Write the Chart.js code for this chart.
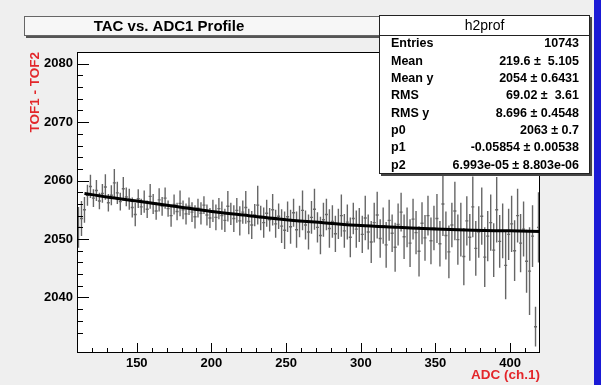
<!DOCTYPE html>
<html>
<head>
<meta charset="utf-8">
<script src="https://cdn.jsdelivr.net/npm/chart.js@4.4.0/dist/chart.umd.min.js"></script>
<style>
html, body { margin: 0; padding: 0; background: #efefef; }
#wrap { width: 601px; height: 385px; }
</style>
</head>
<body>
<div id="wrap"><canvas id="c" width="601" height="385"></canvas></div>
<script>
// profile bins (centre, mean, error)
var binX = [
  111, 113, 115, 117, 119,
  121, 123, 125, 127, 129, 131, 133, 135, 137, 139, 141, 143, 145, 147, 149,
  151, 153, 155, 157, 159, 161, 163, 165, 167, 169, 171, 173, 175, 177, 179, 181, 183, 185, 187, 189, 191, 193, 195, 197, 199,
  201, 203, 205, 207, 209, 211, 213, 215, 217, 219, 221, 223, 225, 227, 229, 231, 233, 235, 237, 239, 241, 243, 245, 247, 249,
  251, 253, 255, 257, 259, 261, 263, 265, 267, 269, 271, 273, 275, 277, 279, 281, 283, 285, 287, 289, 291, 293, 295, 297, 299,
  301, 303, 305, 307, 309, 311, 313, 315, 317, 319, 321, 323, 325, 327, 329, 331, 333, 335, 337, 339, 341, 343, 345, 347, 349,
  351, 353, 355, 357, 359, 361, 363, 365, 367, 369, 371, 373, 375, 377, 379, 381, 383, 385, 387, 389, 391, 393, 395, 397, 399,
  401, 403, 405, 407, 409, 411, 413, 415, 417, 419
];
var binY = [
  2052.0, 2053.5, 2055.0, 2057.5, 2059.0,
  2057.0, 2058.3, 2056.5, 2057.8, 2058.9, 2056.2, 2057.5, 2059.6, 2057.9, 2056.4, 2058.6, 2057.2, 2056.8, 2055.4, 2054.2,
  2056.9, 2055.5, 2056.4, 2055.1, 2057.3, 2056.0, 2054.8, 2056.7, 2055.6, 2057.0, 2055.2, 2054.0, 2055.9, 2054.7, 2056.1, 2055.0, 2054.3, 2055.6, 2054.6, 2053.8, 2055.3, 2054.4, 2055.8, 2054.1, 2053.6,
  2054.8, 2053.7, 2055.2, 2054.0, 2053.2, 2055.6, 2054.3, 2053.5, 2054.9, 2053.1, 2054.6, 2055.4, 2053.0, 2052.4, 2054.1, 2055.8, 2053.6, 2052.8, 2054.4, 2053.3, 2055.0, 2052.6, 2053.9, 2052.2, 2051.5,
  2053.8, 2052.1, 2054.5, 2051.6, 2053.0, 2054.9, 2052.4, 2051.2, 2053.7, 2055.1, 2052.0, 2050.6, 2053.3, 2054.2, 2051.8, 2053.0, 2050.9, 2052.6, 2054.0, 2051.4, 2052.9, 2050.3, 2053.5, 2051.7, 2052.4,
  2050.8, 2053.6, 2051.2, 2049.5, 2052.8, 2054.1, 2050.1, 2052.3, 2049.0, 2053.2, 2051.0, 2048.6, 2052.5, 2054.6, 2050.4, 2052.0, 2049.3, 2053.4, 2051.1, 2047.9, 2052.7, 2050.2, 2054.0, 2049.7, 2051.9,
  2053.5, 2049.2, 2056.0, 2050.6, 2047.8, 2052.4, 2054.8, 2049.9, 2051.6, 2047.0, 2053.1, 2050.3, 2055.5, 2048.4, 2051.2, 2053.9, 2046.9, 2050.5, 2052.8, 2048.1, 2055.0, 2049.6, 2051.4, 2045.5, 2050.8,
  2052.6, 2048.0, 2054.0, 2049.3, 2051.7, 2046.2, 2044.5, 2050.5, 2035.0, 2052.0
];
var binErr = [
  3.5, 3.0, 2.2, 1.8, 2.0,
  1.5, 1.8, 1.4, 1.6, 2.2, 1.5, 1.7, 2.4, 1.9, 1.5, 2.0, 1.6, 1.8, 1.7, 2.0,
  1.6, 1.4, 1.9, 1.5, 2.1, 1.7, 1.5, 2.0, 1.6, 1.8, 1.4, 1.9, 1.7, 1.5, 2.2, 1.6, 1.8, 1.5, 1.7, 2.0, 1.6, 1.9, 1.5, 1.8, 1.7,
  1.9, 2.2, 1.8, 2.4, 2.0, 2.6, 1.9, 2.3, 2.1, 2.5, 2.0, 2.8, 2.2, 2.4, 1.9, 3.3, 2.1, 2.6, 2.3, 2.0, 2.7, 2.4, 2.2, 2.9, 3.2,
  2.6, 2.9, 2.4, 3.1, 2.7, 3.4, 2.5, 3.0, 2.8, 3.5, 2.6, 3.2, 2.9, 2.7, 3.3, 2.8, 3.1, 2.6, 3.6, 2.9, 3.0, 3.4, 2.7, 3.2, 2.9,
  3.2, 3.8, 3.0, 3.6, 3.4, 4.0, 3.3, 3.1, 3.9, 3.5, 3.2, 4.2, 3.6, 3.3, 3.8, 3.4, 4.1, 3.5, 3.7, 4.3, 3.6, 3.9, 3.4, 4.0, 3.8,
  4.2, 3.9, 5.5, 4.1, 4.5, 3.8, 5.0, 4.3, 4.6, 4.9, 4.2, 4.0, 5.2, 4.7, 4.4, 4.9, 5.1, 4.3, 4.8, 4.6, 5.6, 4.5, 4.7, 5.8, 4.4,
  4.8, 5.2, 4.6, 5.0, 4.7, 5.4, 7.5, 5.3, 3.4, 6.0
];

// pol2 fit curve
var fitX = [115, 130, 150, 175, 200, 225, 250, 275, 300, 325, 350, 375, 400, 420];
var fitY = [2057.8, 2057.2, 2056.5, 2055.6, 2054.7, 2054.0, 2053.3, 2052.8, 2052.3, 2052.0, 2051.7, 2051.5, 2051.4, 2051.3];

var statLabels = ['Entries', 'Mean', 'Mean y', 'RMS', 'RMS y', 'p0', 'p1', 'p2'];
var statValues = ['10743', '219.6 \u00b1  5.105', '2054 \u00b1 0.6431', '69.02 \u00b1  3.61',
                  '8.696 \u00b1 0.4548', '2063 \u00b1 0.7', '-0.05854 \u00b1 0.00538', '6.993e-05 \u00b1 8.803e-06'];

var FONT = '"Liberation Sans", Arial, Helvetica, sans-serif';
Chart.defaults.font.family = FONT;

var rootStyle = {
  id: 'rootStyle',
  beforeDraw: function(chart) {
    var c = chart.ctx, a = chart.chartArea;
    c.save();
    c.fillStyle = '#efefef';
    c.fillRect(0, 0, chart.width, chart.height);
    c.fillStyle = '#1a1ad6';
    c.fillRect(594, 0, 7, chart.height);
    c.fillStyle = '#ffffff';
    c.fillRect(a.left, a.top, a.right - a.left, a.bottom - a.top);
    c.restore();
  },
  beforeDatasetsDraw: function(chart) {
    var c = chart.ctx, a = chart.chartArea, xs = chart.scales.x, ys = chart.scales.y;
    c.save();
    c.beginPath();
    c.rect(a.left, a.top, a.right - a.left, a.bottom - a.top);
    c.clip();
    c.strokeStyle = 'rgba(0,0,0,0.6)';
    c.lineWidth = 1.4;
    for (var i = 0; i < binX.length; i++) {
      var px = xs.getPixelForValue(binX[i]);
      var lo = ys.getPixelForValue(binY[i] - binErr[i]);
      var hi = ys.getPixelForValue(binY[i] + binErr[i]);
      var ym = ys.getPixelForValue(binY[i]);
      c.beginPath();
      c.moveTo(px, lo); c.lineTo(px, hi);
      c.moveTo(xs.getPixelForValue(binX[i] - 1), ym);
      c.lineTo(xs.getPixelForValue(binX[i] + 1), ym);
      c.stroke();
    }
    c.restore();
  },
  afterDraw: function(chart) {
    var c = chart.ctx, a = chart.chartArea, xs = chart.scales.x, ys = chart.scales.y;
    c.save();
    // frame
    c.strokeStyle = '#000';
    c.lineWidth = 1;
    c.strokeRect(a.left + 0.5, a.top + 0.5, a.right - a.left - 1, a.bottom - a.top - 1);
    // ticks drawn inside the frame, ROOT style
    c.beginPath();
    xs.ticks.forEach(function(t) {
      var v = t.value;
      if (v <= xs.min || v >= xs.max || v % 10 !== 0) return;
      var px = Math.round(xs.getPixelForValue(v)) + 0.5;
      var len = (v % 50 === 0) ? 10 : 5;
      c.moveTo(px, a.bottom); c.lineTo(px, a.bottom - len);
    });
    ys.ticks.forEach(function(t) {
      var v = t.value;
      if (v <= ys.min || v >= ys.max || v % 2 !== 0) return;
      var py = Math.round(ys.getPixelForValue(v)) + 0.5;
      var len = (v % 10 === 0) ? 12 : 6;
      c.moveTo(a.left, py); c.lineTo(a.left + len, py);
    });
    c.stroke();

    // title pave
    c.fillStyle = '#555';
    c.fillRect(26, 18, 360, 20);
    c.fillStyle = '#f7f7f7';
    c.fillRect(24, 16, 360, 20);
    c.strokeStyle = '#666';
    c.strokeRect(24.5, 16.5, 359, 19);
    c.fillStyle = '#000';
    c.font = 'bold 15px ' + FONT;
    c.textAlign = 'center';
    c.textBaseline = 'middle';
    c.fillText('TAC vs. ADC1 Profile', 169, 26.5);

    // stats box
    var bx = 379, by = 15, bw = 211, bh = 159;
    c.fillStyle = '#444';
    c.fillRect(bx + 2, by + 2, bw, bh);
    c.fillStyle = '#fff';
    c.fillRect(bx, by, bw, bh);
    c.strokeStyle = '#222';
    c.strokeRect(bx + 0.5, by + 0.5, bw - 1, bh - 1);
    c.beginPath();
    c.moveTo(bx, 35.5); c.lineTo(bx + bw, 35.5);
    c.stroke();
    c.fillStyle = '#000';
    c.font = '14px ' + FONT;
    c.textAlign = 'center';
    c.fillText('h2prof', bx + bw / 2, 26);
    c.font = 'bold 12.5px ' + FONT;
    for (var i = 0; i < statLabels.length; i++) {
      var ty = 44 + i * 17.3;
      c.textAlign = 'left';
      c.fillText(statLabels[i], 391, ty);
      c.textAlign = 'right';
      c.fillText(statValues[i], 579, ty);
    }
    c.restore();
  }
};

var ctx = document.getElementById('c').getContext('2d');
var chart = new Chart(ctx, {
  type: 'scatter',
  data: {
    datasets: [{
      label: 'h2prof',
      data: binX.map(function(x, i) { return { x: x, y: binY[i] }; }),
      pointRadius: 0,
      showLine: false
    }, {
      label: 'pol2',
      type: 'line',
      data: fitX.map(function(x, i) { return { x: x, y: fitY[i] }; }),
      borderColor: '#000',
      borderWidth: 3,
      pointRadius: 0,
      fill: false,
      cubicInterpolationMode: 'monotone'
    }]
  },
  options: {
    responsive: false,
    animation: false,
    events: [],
    layout: { padding: { left: 0, right: 61, top: 52, bottom: 0 } },
    plugins: { legend: { display: false }, tooltip: { enabled: false } },
    scales: {
      x: {
        type: 'linear',
        min: 110,
        max: 420,
        afterFit: function(s) { s.height = 32; },
        grid: { display: false, drawTicks: false },
        border: { display: false },
        ticks: {
          stepSize: 10,
          autoSkip: false,
          maxRotation: 0,
          padding: 3,
          color: '#000',
          font: { size: 13, weight: 'bold' },
          callback: function(v) { return v % 50 === 0 ? v : ''; }
        },
        title: {
          display: true,
          text: 'ADC (ch.1)',
          align: 'end',
          color: '#e3262a',
          font: { size: 13.5, weight: 'bold' },
          padding: { top: 0, bottom: 2 }
        }
      },
      y: {
        type: 'linear',
        min: 2030.5,
        max: 2082,
        afterFit: function(s) { s.width = 77; },
        grid: { display: false, drawTicks: false },
        border: { display: false },
        ticks: {
          stepSize: 2,
          autoSkip: false,
          padding: 4,
          color: '#000',
          font: { size: 13, weight: 'bold' },
          callback: function(v) { return v % 10 === 0 ? v : ''; }
        },
        title: {
          display: true,
          text: 'TOF1 - TOF2',
          align: 'end',
          color: '#e3262a',
          font: { size: 13.5, weight: 'bold' },
          padding: { top: 27, bottom: 0 }
        }
      }
    }
  },
  plugins: [rootStyle]
});
</script>
</body>
</html>
